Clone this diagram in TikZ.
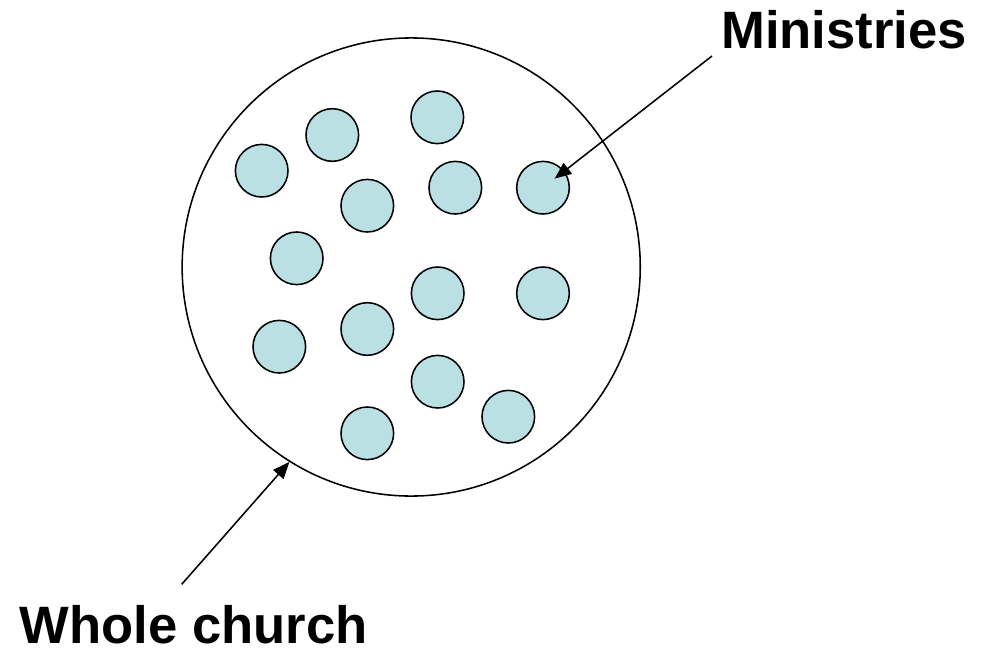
\documentclass[tikz,border=0pt]{standalone}
\usepackage{fontspec}
\setmainfont{Liberation Sans}
\usetikzlibrary{arrows.meta}
\definecolor{ministryfill}{RGB}{187, 224, 227}

\begin{document}
\begin{tikzpicture}[x=0.025cm, y=-0.025cm,
    ministry/.style={circle, draw=black, line width=1.1pt, fill=ministryfill, minimum size=1.315cm, inner sep=0pt},
    churchcircle/.style={circle, draw=black, line width=1.1pt, minimum size=11.45cm, inner sep=0pt},
    bigtext/.style={inner sep=0pt, font=\fontsize{37.4}{44}\selectfont\bfseries},
    pointer/.style={-{Triangle[length=0.42cm, width=0.34cm]}, line width=1.1pt}]
    \useasboundingbox (0, 0) rectangle (988, 650);

    % Whole church
    \node[churchcircle] (church) at (411.2, 267) {};

    % Ministries inside the church
    \foreach \name/\px/\py in {m1/261.7/170.7, m2/332.3/135, m3/437.3/117.3,
        m4/367.3/205.7, m5/455.3/187.7, m6/543/187.7, m7/296.7/258.3,
        m8/437.7/293.3, m9/543/293.3, m10/279.3/346.7, m11/367.3/329,
        m12/437.7/381.7, m13/508.3/416.7, m14/367.3/433.3}
        \node[ministry] (\name) at (\px, \py) {};

    % Labels
    \node[bigtext, anchor=base west] (minlabel) at (721, 48.3) {Ministries};
    \node[bigtext, anchor=base west] (churchlabel) at (19.5, 643) {Whole church};

    % Pointers
    \coordinate (mtail) at (712, 56);
    \coordinate (wtail) at (181.7, 584.3);
    \draw[pointer, shorten >=-0.31cm] (mtail) -- (m6);
    \draw[pointer] (wtail) -- (church.238);
\end{tikzpicture}
\end{document}
